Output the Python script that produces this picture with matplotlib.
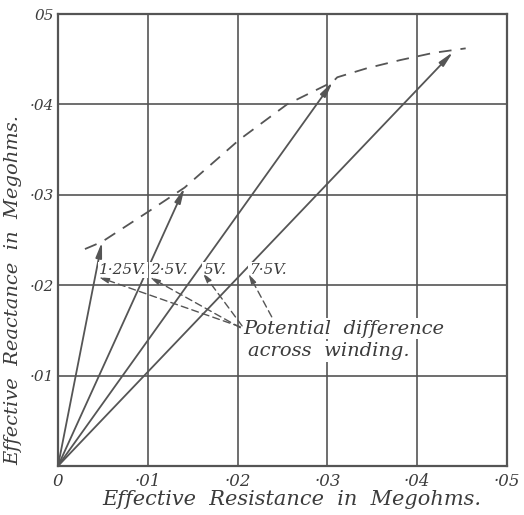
import numpy as np
import matplotlib.pyplot as plt

# vector tips (resistance, reactance) in megohms
volt_labels = ['1·25V.', '2·5V.', '5V.', '7·5V.']
tip_r = [0.0049, 0.0141, 0.0306, 0.0440]
tip_x = [0.0248, 0.0308, 0.0425, 0.0458]

# dashed locus through the tips
curve_r = [0.0030, 0.0049, 0.0100, 0.0141, 0.0202, 0.0255, 0.0306, 0.0311,
           0.0344, 0.0381, 0.0418, 0.0454]
curve_x = [0.0240, 0.0248, 0.0281, 0.0308, 0.0361, 0.0400, 0.0425, 0.0430,
           0.0440, 0.0449, 0.0457, 0.0462]

ticks = [0, 0.01, 0.02, 0.03, 0.04, 0.05]
xtick_labels = ['0', '·01', '·02', '·03', '·04', '·05']
ytick_labels = ['', '·01', '·02', '·03', '·04', '05']

# leader arrows: from the note up to the left end of each label
leader_end = [(0.0045, 0.0209), (0.0102, 0.0209), (0.0161, 0.0214), (0.0212, 0.0213)]
leader_start = [(0.0203, 0.0154), (0.0203, 0.0153), (0.0205, 0.0155), (0.0238, 0.0165)]

ink = '#555555'
font = dict(family='DejaVu Serif', style='italic', color='#3c3c3c')

fig = plt.figure(figsize=(5.24, 5.15), dpi=100)
ax = fig.add_axes([58/524, 49/515, 449/524, 452/515])
ax.set_xlim(0, 0.05)
ax.set_ylim(0, 0.05)

for t in ticks[1:-1]:
    ax.axvline(t, color=ink, lw=1.2, zorder=1)
    ax.axhline(t, color=ink, lw=1.2, zorder=1)
for s in ax.spines.values():
    s.set_color(ink)
    s.set_linewidth(1.6)

ax.set_xticks(ticks)
ax.set_xticklabels(xtick_labels, fontsize=12, **font)
ax.set_yticks(ticks)
ax.set_yticklabels(ytick_labels, fontsize=11, **font)
ax.tick_params(axis='x', length=0, pad=5)
ax.tick_params(axis='y', length=0, pad=3)

ax.set_xlabel('Effective  Resistance  in  Megohms.', fontsize=15, **font)
ax.set_ylabel('Effective  Reactance  in  Megohms.', fontsize=14, **font)
ax.xaxis.set_label_coords(0.52, -0.052)
ax.yaxis.set_label_coords(-0.08, 0.39)

ax.plot(curve_r, curve_x, color=ink, lw=1.3, dashes=(7, 5), zorder=3)

for r, x in zip(tip_r, tip_x):
    ax.annotate('', xy=(r, x), xytext=(0, 0),
                arrowprops=dict(arrowstyle='-|>,head_length=0.9,head_width=0.18',
                                color=ink, lw=1.3, shrinkA=0, shrinkB=0),
                zorder=4)

for lab, (lx, ly) in zip(volt_labels, leader_end):
    ax.text(lx + 0.0001, 0.0217, lab, fontsize=11, ha='left', va='center', zorder=5,
            bbox=dict(facecolor='white', edgecolor='none', pad=0.8), **font)

for (sx, sy), (ex, ey) in zip(leader_start, leader_end):
    ax.annotate('', xy=(ex, ey), xytext=(sx, sy),
                arrowprops=dict(arrowstyle='-|>,head_length=0.6,head_width=0.15',
                                color=ink, lw=1.0, linestyle=(0, (5, 3)),
                                shrinkA=0, shrinkB=0),
                zorder=6)

ax.text(0.0206, 0.0152, 'Potential  difference', fontsize=14, ha='left', va='center',
        zorder=5, bbox=dict(facecolor='white', edgecolor='none', pad=1), **font)
ax.text(0.0212, 0.0127, 'across  winding.', fontsize=14, ha='left', va='center',
        zorder=5, bbox=dict(facecolor='white', edgecolor='none', pad=1), **font)

plt.savefig('out.png', dpi=100)
